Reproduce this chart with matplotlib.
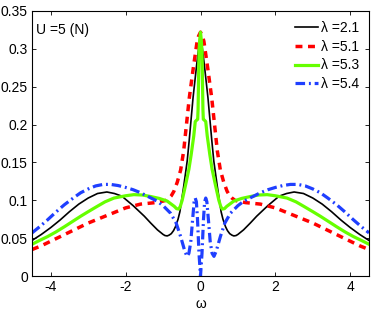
import numpy as np
import matplotlib
matplotlib.use("Agg")
import matplotlib.pyplot as plt

plt.rcParams['font.family'] = ['Liberation Sans', 'DejaVu Sans']
plt.rcParams['font.size'] = 10

# curves (omega, A(omega))
w_black = [-4.5, -4.25, -4.0, -3.75, -3.5, -3.25, -3.0, -2.75, -2.5, -2.3, -2.1, -1.8, -1.5, -1.33,
           -1.15, -1.0, -0.95, -0.89, -0.84, -0.78, -0.72, -0.67, -0.6, -0.55, -0.45, -0.355, -0.3,
           -0.2, -0.1, -0.05, 0.0,
           0.05, 0.1, 0.2, 0.3, 0.355, 0.45, 0.55, 0.6, 0.67, 0.72, 0.78, 0.84, 0.89, 0.95, 1.0,
           1.15, 1.33, 1.5, 1.8, 2.1, 2.3, 2.5, 2.75, 3.0, 3.25, 3.5, 3.75, 4.0, 4.25, 4.5]
a_black = [0.047, 0.055, 0.064, 0.074, 0.085, 0.095, 0.103, 0.109, 0.111, 0.109, 0.1055, 0.093, 0.079, 0.070,
           0.061, 0.055, 0.0535, 0.053, 0.054, 0.056, 0.060, 0.065, 0.075, 0.085, 0.118, 0.152, 0.180,
           0.235, 0.280, 0.300, 0.322,
           0.300, 0.280, 0.235, 0.180, 0.152, 0.118, 0.085, 0.075, 0.065, 0.060, 0.056, 0.054, 0.053, 0.0535, 0.055,
           0.061, 0.070, 0.079, 0.093, 0.1055, 0.109, 0.111, 0.109, 0.103, 0.095, 0.085, 0.074, 0.064, 0.055, 0.047]

w_red = [-4.5, -4.25, -4.0, -3.75, -3.5, -3.25, -3.0, -2.75, -2.5, -2.25, -2.0, -1.6, -1.2, -1.0,
         -0.92, -0.84, -0.78, -0.71, -0.62, -0.53, -0.45, -0.36, -0.3, -0.2, -0.09, -0.05, 0.0,
         0.05, 0.09, 0.2, 0.3, 0.36, 0.45, 0.53, 0.62, 0.71, 0.78, 0.84, 0.92, 1.0,
         1.2, 1.6, 2.0, 2.25, 2.5, 2.75, 3.0, 3.25, 3.5, 3.75, 4.0, 4.25, 4.5]
a_red = [0.035, 0.040, 0.046, 0.052, 0.058, 0.064, 0.070, 0.075, 0.080, 0.085, 0.090, 0.095, 0.097, 0.099,
         0.100, 0.103, 0.106, 0.112, 0.124, 0.140, 0.165, 0.207, 0.235, 0.272, 0.310, 0.317, 0.322,
         0.317, 0.310, 0.272, 0.235, 0.207, 0.165, 0.140, 0.124, 0.112, 0.106, 0.103, 0.100, 0.099,
         0.097, 0.095, 0.090, 0.085, 0.080, 0.075, 0.070, 0.064, 0.058, 0.052, 0.046, 0.040, 0.035]

w_green = [-4.5, -4.3, -4.09, -3.87, -3.64, -3.42, -3.2, -3.0, -2.76, -2.55, -2.31, -2.0, -1.78, -1.55,
           -1.33, -1.1, -0.89, -0.7, -0.64, -0.58, -0.54, -0.49, -0.4, -0.31, -0.25, -0.18, -0.14,
           -0.1, -0.075, -0.065, -0.04, -0.02, 0.0,
           0.02, 0.04, 0.065, 0.075, 0.1, 0.14, 0.18, 0.25, 0.31, 0.4, 0.49, 0.54, 0.58, 0.64, 0.7,
           0.89, 1.1, 1.33, 1.55, 1.78, 2.0, 2.31, 2.55, 2.76, 3.0, 3.2, 3.42, 3.64, 3.87, 4.09, 4.3, 4.5]
a_green = [0.042, 0.047, 0.052, 0.058, 0.065, 0.072, 0.079, 0.085, 0.092, 0.098, 0.103, 0.106, 0.1075, 0.107,
           0.105, 0.1025, 0.099, 0.092, 0.089, 0.0885, 0.092, 0.100, 0.120, 0.141, 0.160, 0.185, 0.204,
           0.206, 0.207, 0.220, 0.296, 0.312, 0.322,
           0.312, 0.296, 0.220, 0.207, 0.206, 0.204, 0.185, 0.160, 0.141, 0.120, 0.100, 0.092, 0.0885, 0.089, 0.092,
           0.099, 0.1025, 0.105, 0.107, 0.1075, 0.106, 0.103, 0.098, 0.092, 0.085, 0.079, 0.072, 0.065, 0.058, 0.052, 0.047, 0.042]

w_blue = [-4.5, -4.3, -4.09, -3.85, -3.64, -3.4, -3.2, -3.0, -2.8, -2.6, -2.4, -2.2, -2.0, -1.8,
          -1.6, -1.4, -1.16, -1.0, -0.8, -0.65, -0.53, -0.42, -0.36, -0.31, -0.26, -0.21, -0.17,
          -0.14, -0.11, -0.08, -0.04, 0.0,
          0.04, 0.08, 0.11, 0.14, 0.17, 0.21, 0.26, 0.31, 0.36, 0.42, 0.53, 0.65, 0.8, 1.0, 1.16,
          1.4, 1.6, 1.8, 2.0, 2.2, 2.4, 2.6, 2.8, 3.0, 3.2, 3.4, 3.64, 3.85, 4.09, 4.3, 4.5]
a_blue = [0.057, 0.065, 0.074, 0.085, 0.094, 0.103, 0.110, 0.115, 0.119, 0.121, 0.121, 0.1195, 0.117, 0.114,
          0.110, 0.105, 0.099, 0.093, 0.083, 0.070, 0.052, 0.033, 0.026, 0.030, 0.045, 0.075, 0.098,
          0.103, 0.098, 0.075, 0.030, 0.0,
          0.030, 0.075, 0.098, 0.103, 0.098, 0.075, 0.045, 0.030, 0.026, 0.033, 0.052, 0.070, 0.083, 0.093, 0.099,
          0.105, 0.110, 0.114, 0.117, 0.1195, 0.121, 0.121, 0.119, 0.115, 0.110, 0.103, 0.094, 0.085, 0.074, 0.065, 0.057]

labels = ['λ =2.1', 'λ =5.1', 'λ =5.3', 'λ =5.4']

fig = plt.figure(figsize=(3.74, 3.13), dpi=100)
ax = fig.add_axes([0.0856, 0.118, 0.901, 0.847])

ax.plot(w_black, a_black, color='black', lw=1.2, label=labels[0])
ax.plot(w_red, a_red, color='red', lw=2.5, ls=(0, (2.0, 1.6)), label=labels[1])
ax.plot(w_green, a_green, color='#66ff00', lw=2.3, label=labels[2])
ax.plot(w_blue, a_blue, color='#1f3fff', lw=2.3, ls=(0, (3.0, 1.2, 0.6, 1.2)), label=labels[3])

ax.set_xlim(-4.5, 4.5)
ax.set_ylim(0, 0.35)
ax.set_xticks([-4, -2, 0, 2, 4])
ax.set_yticks([0, 0.05, 0.1, 0.15, 0.2, 0.25, 0.3, 0.35])
ax.set_yticklabels(['0', '0.05', '0.1', '0.15', '0.2', '0.25', '0.3', '0.35'])
ax.set_xticklabels(['-4', '-2', '0', '2', '4'])
ax.tick_params(direction='in', top=True, right=True, length=3, width=0.6, pad=3)
for s in ax.spines.values():
    s.set_linewidth(0.8)
ax.set_xlabel('ω', labelpad=2)

ax.text(0.012, 0.955, 'U =5 (N)', transform=ax.transAxes, ha='left', va='top')
ax.legend(loc='upper right', frameon=False, handlelength=1.7, handletextpad=0.2,
          labelspacing=0.35, borderaxespad=0.3, fontsize=10)

fig.savefig('out.png', dpi=100)
